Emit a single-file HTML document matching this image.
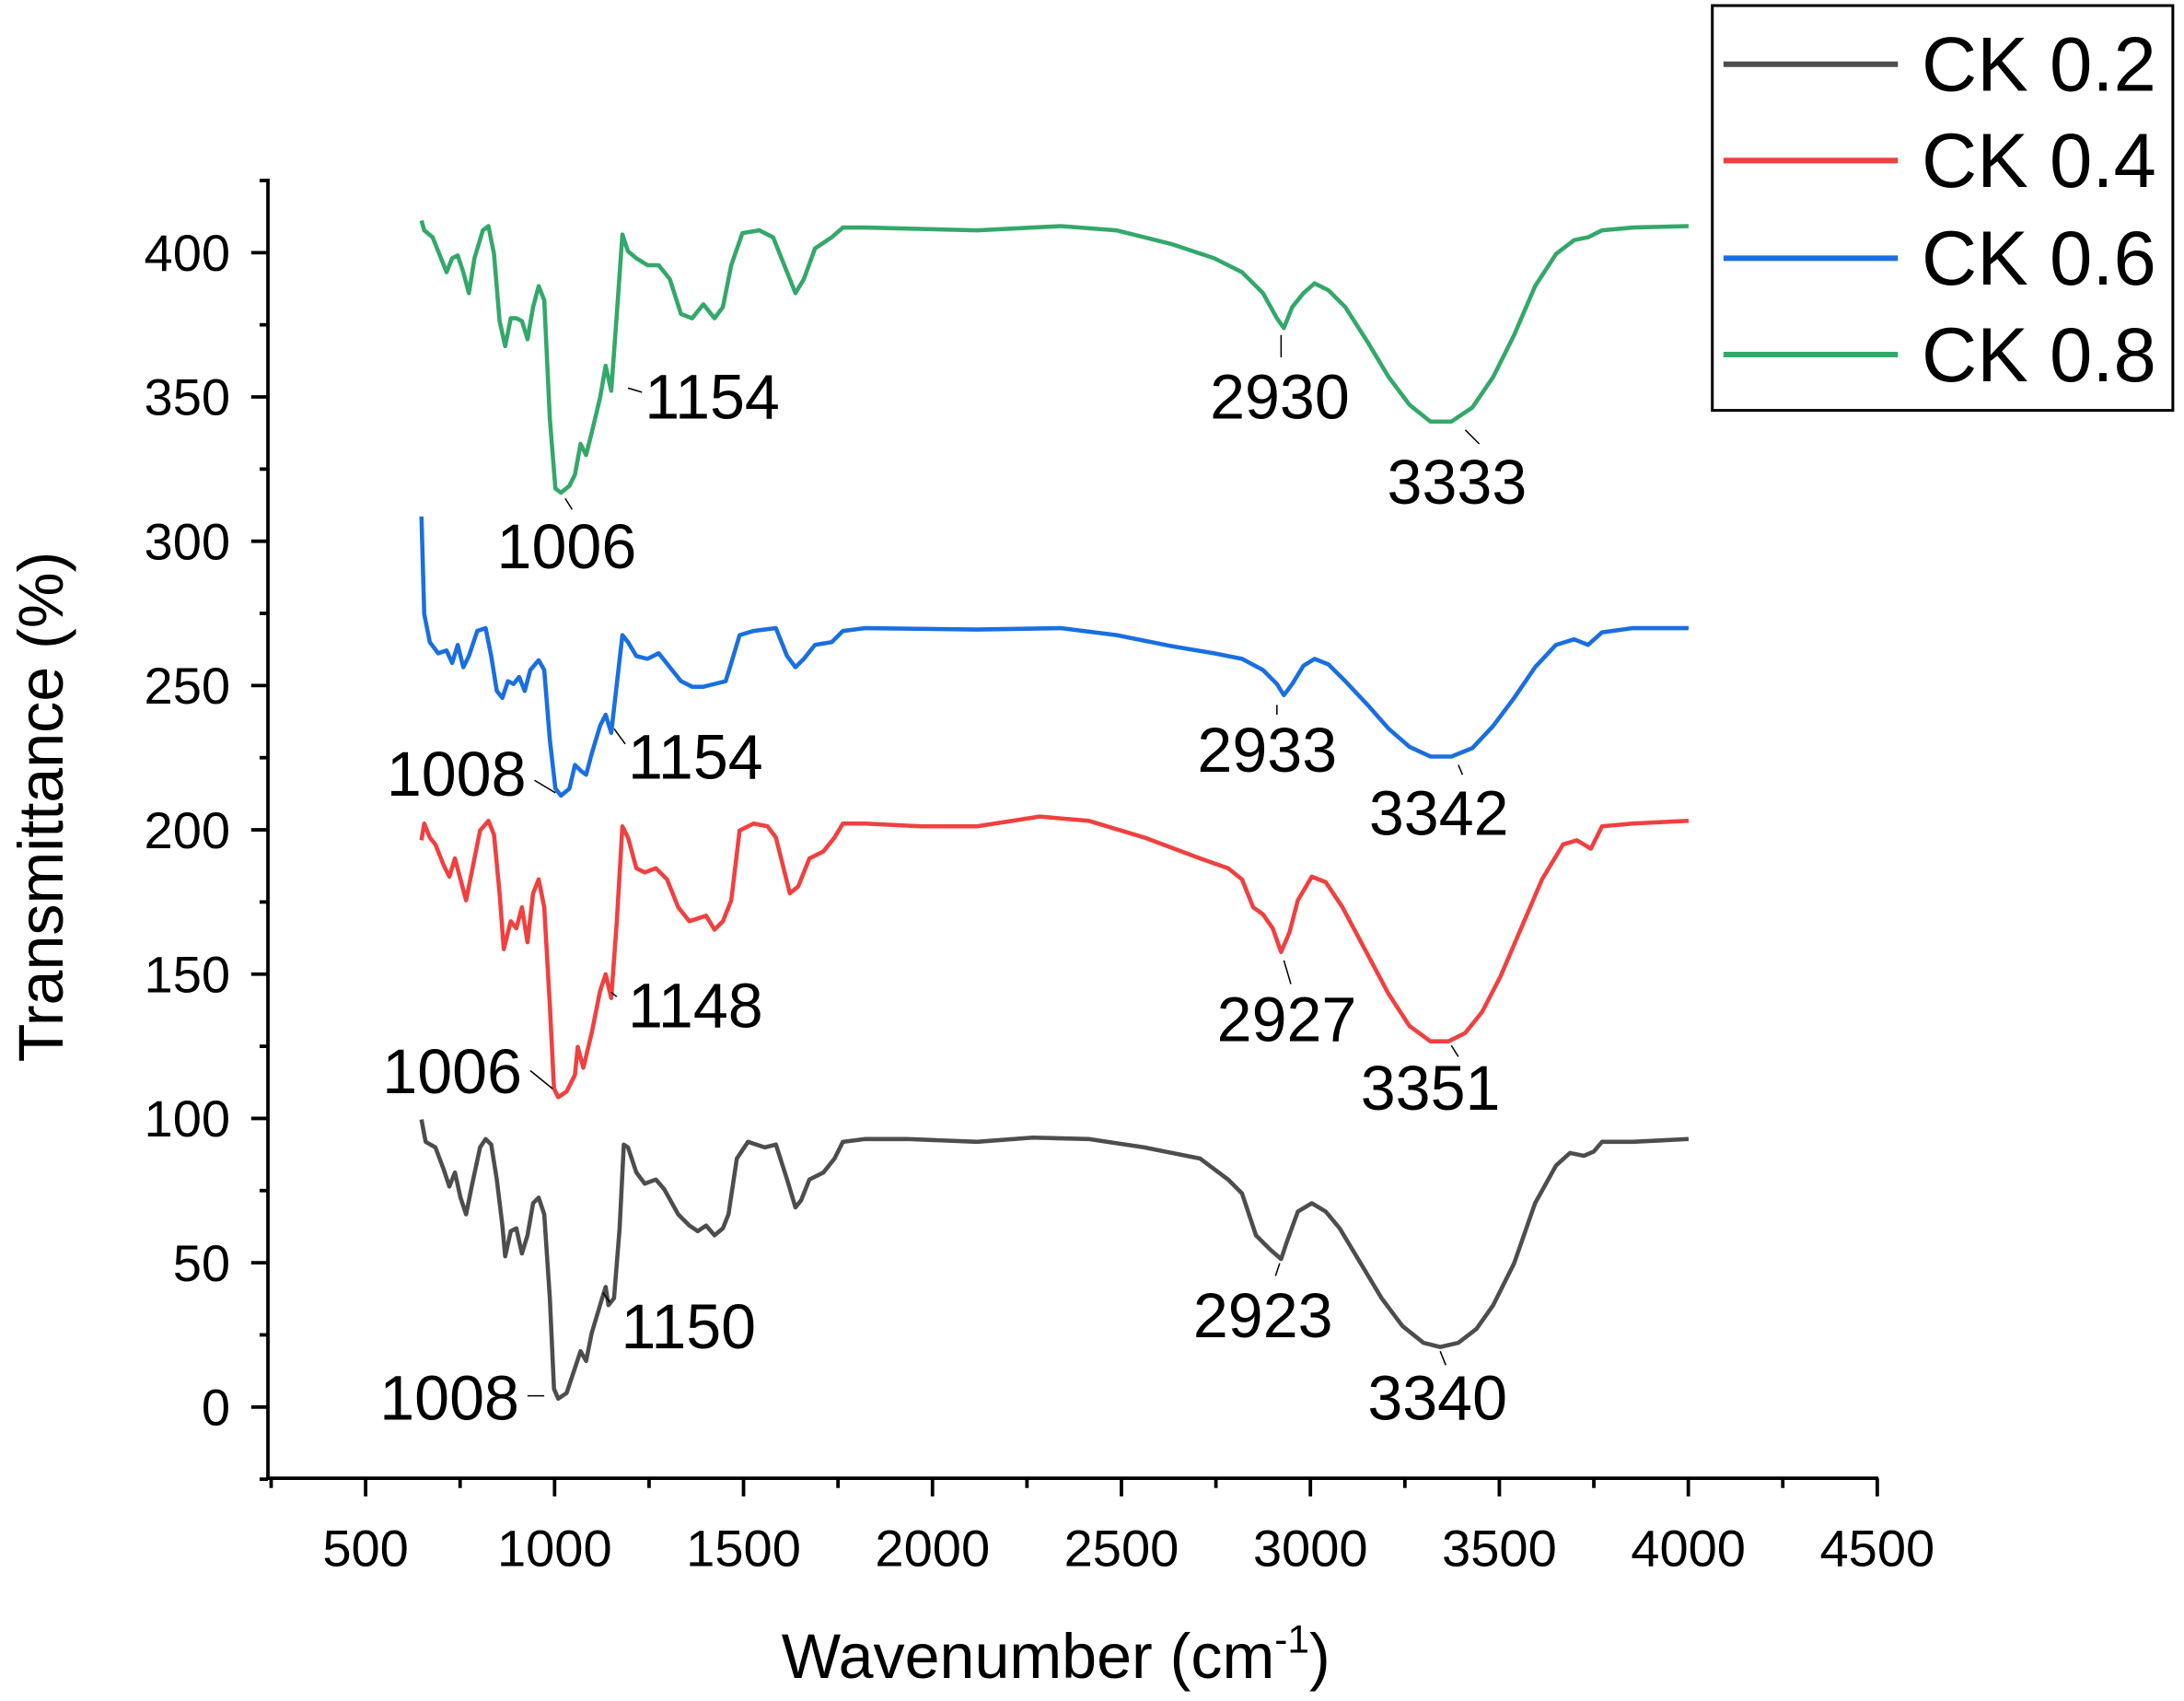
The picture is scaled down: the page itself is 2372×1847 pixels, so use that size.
<!DOCTYPE html>
<html><head><meta charset="utf-8"><style>
html,body{margin:0;padding:0;background:#fff;}
svg{display:block;}
text{font-family:"Liberation Sans",Arial,sans-serif;fill:#000;}
</style></head><body>
<svg width="2372" height="1847" viewBox="0 0 1565 1218.6" preserveAspectRatio="none" xmlns="http://www.w3.org/2000/svg">
<g id="ticks" stroke="#000" stroke-width="2.5" fill="none"></g>
<g stroke-width="3" fill="none" stroke-linejoin="round">
<polyline stroke="#4d4d4d" points="302,802 305,818 312,822 318,838 322,850 326,840 330,858 334,870 338,850 344,822 348,816 352,820 356,845 360,878 362,900 366,882 370,880 374,898 378,885 382,862 386,858 390,870 394,930 397,995 400,1002 406,998 412,980 416,968 420,975 424,955 430,935 434,922 436,935 440,930 444,880 447,820 450,822 456,840 462,848 470,845 476,852 486,870 494,878 500,882 506,878 512,885 518,880 522,870 528,830 536,818 548,822 556,820 564,845 570,865 574,860 580,845 590,840 598,830 604,818 620,816 650,816 700,818 740,815 780,816 820,822 860,830 880,845 890,855 900,885 910,895 918,902 922,890 930,868 940,862 950,868 960,880 975,905 990,930 1005,950 1020,962 1032,965 1045,962 1058,952 1070,935 1085,905 1100,862 1115,835 1125,826 1135,828 1142,825 1148,818 1170,818 1190,817 1210,816"/>
<polyline stroke="#f04040" points="302,602 304,590 308,600 312,605 318,620 322,628 326,615 330,630 334,645 338,625 344,595 350,588 354,598 358,640 361,680 366,660 370,665 374,650 378,675 382,640 386,630 390,650 394,720 397,780 400,786 406,782 412,770 414,750 418,765 424,740 430,710 434,698 438,715 442,660 446,592 450,600 456,622 462,625 470,622 478,630 486,650 494,660 500,658 506,656 512,666 518,660 524,645 530,595 540,590 550,592 556,600 566,640 572,635 580,615 590,610 598,600 604,590 620,590 660,592 700,592 745,585 780,588 820,600 860,615 880,622 890,630 898,650 905,655 912,665 918,682 924,668 930,645 940,628 950,632 962,650 978,680 995,712 1010,735 1025,746 1038,746 1050,740 1062,725 1075,700 1090,665 1105,630 1120,605 1130,602 1140,608 1148,592 1170,590 1210,588"/>
<polyline stroke="#1a6fe0" points="302,370 304,440 308,460 314,468 320,466 324,475 328,462 332,478 336,470 342,452 348,450 352,470 356,495 360,500 364,488 368,490 372,485 376,495 380,480 386,473 390,480 394,530 398,565 402,570 408,565 412,548 416,552 420,555 424,540 430,520 434,512 438,525 442,490 446,455 450,460 456,470 464,472 472,468 480,478 488,488 496,492 504,492 512,490 520,488 524,475 530,455 540,452 556,450 564,470 570,478 576,472 584,462 596,460 604,452 620,450 700,451 760,450 800,455 840,463 870,468 890,472 905,480 915,490 920,498 926,490 934,477 942,472 952,476 964,488 980,505 995,522 1010,535 1025,542 1040,542 1055,536 1070,520 1085,500 1100,478 1115,462 1128,458 1138,462 1148,453 1170,450 1210,450"/>
<polyline stroke="#33a86a" points="302,158 304,165 310,170 316,185 320,195 324,185 328,183 332,195 336,210 340,185 346,165 350,162 354,182 358,230 362,248 366,228 370,228 374,230 378,243 382,220 386,205 390,215 394,300 398,350 402,353 408,348 412,340 416,318 420,326 424,310 430,285 434,262 438,280 442,225 446,168 450,180 456,185 464,190 472,190 480,200 488,225 496,228 504,218 512,228 518,220 524,190 532,167 544,165 554,170 562,190 570,210 576,200 584,178 596,170 604,163 620,163 700,165 760,162 800,165 840,175 870,185 890,195 905,210 915,228 920,235 926,220 934,210 942,203 952,208 964,220 980,245 995,270 1010,290 1025,302 1040,302 1055,292 1070,270 1085,240 1100,205 1115,182 1128,172 1138,170 1148,165 1170,163 1210,162"/>
</g>
<g stroke="#000" stroke-width="1" fill="none">
<line x1="378" y1="1000" x2="390" y2="1000"/><line x1="437" y1="933" x2="432" y2="926"/><line x1="917" y1="905" x2="914" y2="914"/><line x1="1032" y1="968" x2="1036" y2="978"/>
<line x1="380" y1="767" x2="396" y2="780"/><line x1="442" y1="714" x2="438" y2="711"/><line x1="920" y1="688" x2="925" y2="705"/><line x1="1040" y1="749" x2="1045" y2="757"/>
<line x1="383" y1="559" x2="398" y2="568"/><line x1="440" y1="522" x2="448" y2="533"/><line x1="915" y1="505" x2="915" y2="512"/><line x1="1045" y1="548" x2="1048" y2="555"/>
<line x1="450" y1="278" x2="460" y2="281"/><line x1="405" y1="357" x2="410" y2="365"/><line x1="918" y1="240" x2="918" y2="256"/><line x1="1050" y1="308" x2="1060" y2="318"/>
</g>
<g font-size="45">
<text x="272" y="1017">1008</text><text x="445" y="966">1150</text><text x="855" y="958">2923</text><text x="980" y="1017">3340</text>
<text x="274" y="783">1006</text><text x="450" y="736">1148</text><text x="872" y="746">2927</text><text x="975" y="795">3351</text>
<text x="277" y="570">1008</text><text x="450" y="558">1154</text><text x="858" y="553">2933</text><text x="981" y="598">3342</text>
<text x="462" y="300">1154</text><text x="356" y="407">1006</text><text x="867" y="300">2930</text><text x="994" y="361">3333</text>
</g>
<g id="labels" font-size="37"></g>
<text font-size="45" transform="translate(45,578) rotate(-90)" text-anchor="middle">Transmittance (%)</text>
<text font-size="45" x="560" y="1202">Wavenumber (cm<tspan font-size="28" dy="-18">-1</tspan><tspan dy="18">)</tspan></text>
<rect x="1227" y="4" width="330" height="290" fill="none" stroke="#000" stroke-width="2"/>
<g stroke-width="4">
<line x1="1235" y1="46" x2="1360" y2="46" stroke="#4d4d4d"/>
<line x1="1235" y1="115" x2="1360" y2="115" stroke="#f04040"/>
<line x1="1235" y1="185" x2="1360" y2="185" stroke="#1a6fe0"/>
<line x1="1235" y1="254" x2="1360" y2="254" stroke="#33a86a"/>
</g>
<g font-size="55">
<text x="1377" y="65">CK 0.2</text><text x="1377" y="134">CK 0.4</text><text x="1377" y="204">CK 0.6</text><text x="1377" y="273">CK 0.8</text>
</g>
<script>
(function(){
var ns="http://www.w3.org/2000/svg",t=document.getElementById("ticks"),l=document.getElementById("labels");
function ln(a,b,c,d){var e=document.createElementNS(ns,"line");e.setAttribute("x1",a);e.setAttribute("y1",b);e.setAttribute("x2",c);e.setAttribute("y2",d);t.appendChild(e);}
function tx(x,y,s,anc){var e=document.createElementNS(ns,"text");e.setAttribute("x",x);e.setAttribute("y",y);e.setAttribute("text-anchor",anc);e.textContent=s;l.appendChild(e);}
ln(192,128,192,1060);ln(190.8,1059,1346,1059);
for(var v=-25;v<=425;v+=25){var y=1008-v*2.0675;var maj=(v%50===0);ln(maj?180:186,y,192,y);if(maj&&v>=0&&v<=400)tx(165,y+13,String(v),"end");}
for(var w=250;w<=4500;w+=250){var x=262+(w-500)*0.2708;var maj=(w%500===0);ln(x,1059,x,maj?1072:1066);if(maj&&w>=500)tx(x,1122,String(w),"middle");}
})();
</script>
</svg>
</body></html>
